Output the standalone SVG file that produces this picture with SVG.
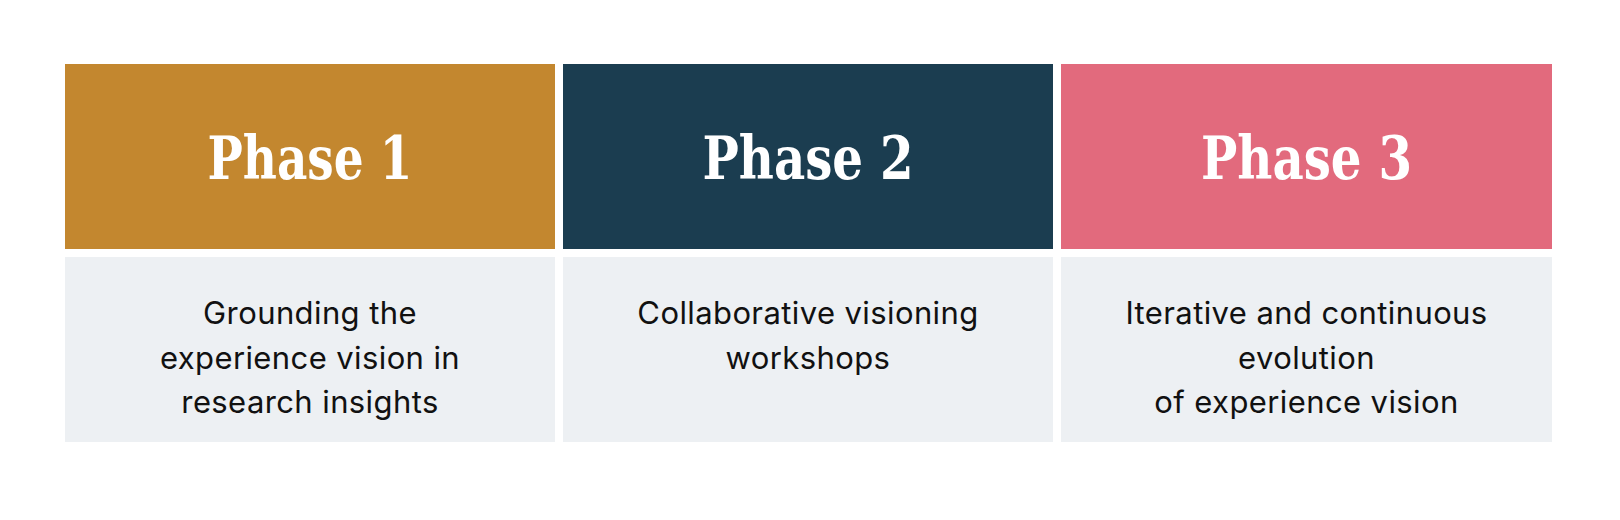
<svg xmlns="http://www.w3.org/2000/svg" width="1620" height="520" viewBox="0 0 1620 520">
<style>
.bg{fill:#ffffff}
.head{font-family:"DejaVu Serif","Liberation Serif",serif;font-weight:bold;font-size:60px;fill:#ffffff;text-anchor:middle}
.body{fill:#edf0f3}
.txt{font-family:Inter,"Noto Sans",sans-serif;font-size:31px;letter-spacing:0.4px;fill:#111111;text-anchor:middle}
</style>
<rect class="bg" x="0" y="0" width="1620" height="520"/>
<g id="phase1">
<rect x="65" y="64" width="490" height="185" fill="#c3872f"/>
<text class="head" x="310" y="179" textLength="205" lengthAdjust="spacingAndGlyphs">Phase 1</text>
<rect class="body" x="65" y="257" width="490" height="185"/>
<text class="txt" x="310" y="324">Grounding the</text>
<text class="txt" x="310" y="368.5">experience vision in</text>
<text class="txt" x="310" y="413">research insights</text>
</g>
<g id="phase2">
<rect x="563" y="64" width="490" height="185" fill="#1b3d50"/>
<text class="head" x="808" y="179" textLength="211" lengthAdjust="spacingAndGlyphs">Phase 2</text>
<rect class="body" x="563" y="257" width="490" height="185"/>
<text class="txt" x="808" y="324">Collaborative visioning</text>
<text class="txt" x="808" y="368.5">workshops</text>
</g>
<g id="phase3">
<rect x="1061" y="64" width="491" height="185" fill="#e26a7d"/>
<text class="head" x="1306.5" y="179" textLength="211" lengthAdjust="spacingAndGlyphs">Phase 3</text>
<rect class="body" x="1061" y="257" width="491" height="185"/>
<text class="txt" x="1306.5" y="324">Iterative and continuous</text>
<text class="txt" x="1306.5" y="368.5">evolution</text>
<text class="txt" x="1306.5" y="413">of experience vision</text>
</g>
<g id="connectors"></g>
</svg>
